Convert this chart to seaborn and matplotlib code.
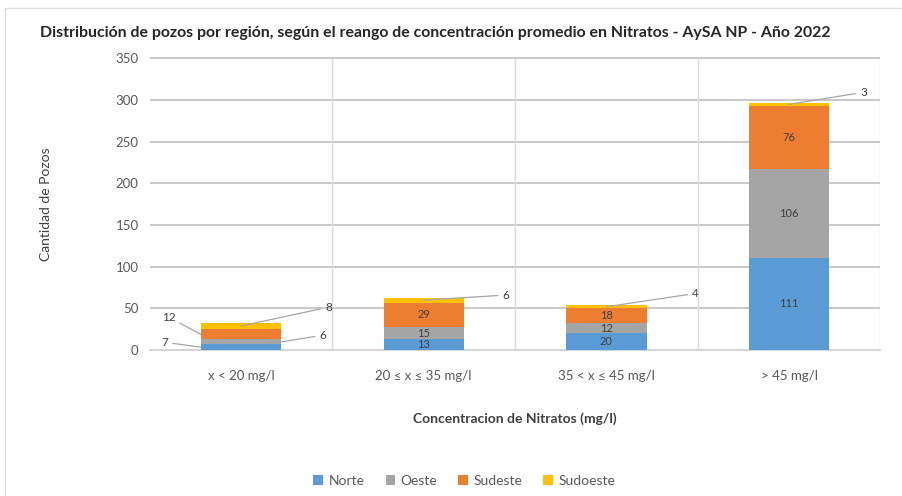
import numpy as np
import pandas as pd
import matplotlib
matplotlib.use("Agg")
import matplotlib.pyplot as plt
from matplotlib.patches import Rectangle
import seaborn as sns

# data
categorias = ["x < 20 mg/l", "20 ≤ x ≤ 35 mg/l", "35 < x ≤ 45 mg/l", "> 45 mg/l"]
regiones = ["Norte", "Oeste", "Sudeste", "Sudoeste"]
norte = [7, 13, 20, 111]
oeste = [6, 15, 12, 106]
sudeste = [12, 29, 18, 76]
sudoeste = [8, 6, 4, 3]
colores = ["#5B9BD5", "#A5A5A5", "#ED7D31", "#FFC000"]

sns.set_theme(style="white")
plt.rcParams["font.family"] = ["Lato", "DejaVu Sans"]

series = [norte, oeste, sudeste, sudoeste]
acum = np.cumsum(np.array(series), axis=0)

fig = plt.figure(figsize=(9.02, 4.96), dpi=100)
ax = fig.add_axes([0.166, 0.294, 0.81, 0.589])

# stacked bars: draw cumulative totals from the top series down
for i in range(3, -1, -1):
    df = pd.DataFrame({"cat": categorias, "val": acum[i]})
    sns.barplot(data=df, x="cat", y="val", color=colores[i], width=0.44,
                saturation=1, ax=ax, zorder=3, label=regiones[i], linewidth=0)

if ax.get_legend() is not None:
    ax.get_legend().remove()

ax.set_ylim(0, 350)
ax.set_xlim(-0.5, 3.5)
ax.set_yticks(range(0, 351, 50))
ax.hlines(list(range(50, 351, 50)), -0.5, 3.5, colors="#C4C4C4", lw=1.3,
          zorder=1, clip_on=False)
ax.vlines([0.5, 1.5, 2.5, 3.5], 0, 350, colors="#DCDCDC", lw=1, zorder=1)
for s in ["top", "right", "left"]:
    ax.spines[s].set_visible(False)
ax.spines["bottom"].set_color("#CFCFCF")
ax.tick_params(axis="both", length=0, labelsize=9.5, colors="#595959", pad=8)
ax.tick_params(axis="x", pad=14)

ax.set_xlabel("Concentracion de Nitratos (mg/l)", fontsize=10, fontweight="bold",
              color="#404040", labelpad=22)
ax.set_ylabel("Cantidad de Pozos", fontsize=10, color="#404040", labelpad=46)

# labels inside large segments
for i, vals in enumerate(series):
    for j, v in enumerate(vals):
        base = acum[i][j] - v
        if v >= 12 and j > 0:
            ax.text(j, base + v / 2, str(v), ha="center", va="center",
                    fontsize=8, color="#404040", zorder=5)

# callout labels for small segments
callouts = [
    (str(norte[0]), (-0.22, norte[0] / 2), (-0.40, 9.6), "right"),
    (str(sudeste[0]), (-0.22, acum[2][0] - sudeste[0] / 2), (-0.36, 39.6), "right"),
    (str(oeste[0]), (0.22, acum[1][0] - oeste[0] / 2), (0.43, 18), "left"),
    (str(sudoeste[0]), (0.0, acum[3][0] - sudoeste[0] / 2), (0.46, 51.5), "left"),
    (str(sudoeste[1]), (1.0, acum[3][1] - sudoeste[1] / 2), (1.43, 66), "left"),
    (str(sudoeste[2]), (2.0, acum[3][2] - sudoeste[2] / 2), (2.47, 68), "left"),
    (str(sudoeste[3]), (3.0, acum[3][3] - sudoeste[3] / 2), (3.39, 309), "left"),
]
for txt, xy, xyt, ha in callouts:
    ax.annotate(txt, xy=xy, xytext=xyt, ha=ha, va="center", fontsize=8.5,
                color="#404040", zorder=6,
                arrowprops=dict(arrowstyle="-", color="#A6A6A6", lw=0.9,
                                shrinkA=1, shrinkB=0))

# legend
handles, labels = ax.get_legend_handles_labels()
order = [labels.index(r) for r in regiones]
fig.legend([handles[k] for k in order], regiones, loc="center",
           bbox_to_anchor=(0.515, 0.03), ncol=4, frameon=False, fontsize=10,
           handlelength=0.7, handleheight=0.7, handletextpad=0.4,
           columnspacing=1.5, labelcolor="#595959")

fig.text(0.044, 0.933, "Distribución de pozos por región, según el reango de concentración "
         "promedio en Nitratos - AySA NP - Año 2022", fontsize=11.4,
         fontweight="bold", color="#262626", va="center")

fig.patches.append(Rectangle((0.006, -0.1), 1.1, 1.084, transform=fig.transFigure,
                             fill=False, edgecolor="#E0E0E0", lw=1))

fig.savefig("out.png", dpi=100)
